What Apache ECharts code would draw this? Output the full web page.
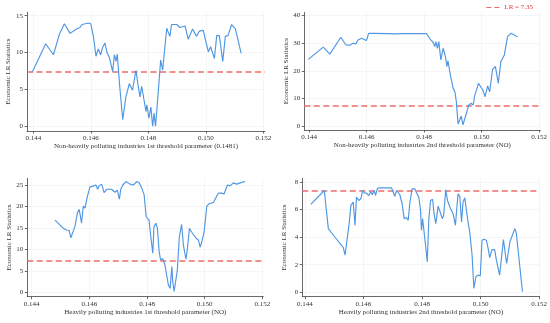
<!DOCTYPE html>
<html>
<head>
<meta charset="utf-8">
<script src="https://cdn.jsdelivr.net/npm/echarts@6/dist/echarts.min.js"></script>
<style>html,body{margin:0;padding:0;background:#fff}#c{width:550px;height:323px}</style>
</head>
<body>
<div id="c"></div>
<script>
// ---- data ----
const xTicks = [0.144, 0.146, 0.148, 0.150, 0.152];
const xTickLabels = ['0.144', '0.146', '0.148', '0.150', '0.152'];
const lrThreshold = 7.35;
const legendLabel = 'LR = 7.35';
const yTitle = 'Economic LR Statistics';

const xTitles = [
  'Non-heavily polluting industries 1st threshold parameter (0.1481)',
  'Non-heavily polluting industries 2nd threshold parameter (NO)',
  'Heavily polluting industries 1st threshold parameter (NO)',
  'Heavily polluting industries 2nd threshold parameter (NO)'
];
const yTicks1 = [0, 5, 10, 15];
const yTicks2 = [0, 10, 20, 30, 40];
const yTicks3 = [0, 5, 10, 15, 20, 25];
const yTicks4 = [0, 2, 4, 6, 8];

const p1X = [0.14397,0.14443,0.1447,0.1449,0.14508,0.14528,0.1455,0.14562,0.1457,0.14591,0.146,0.14609,0.14618,0.14626,0.14634,0.14641,0.14649,0.14657,0.14664,0.1467,0.14676,0.14682,0.14688,0.14692,0.14701,0.14711,0.14722,0.14734,0.14745,0.14757,0.14765,0.14771,0.14777,0.14785,0.14792,0.14795,0.14802,0.14809,0.14815,0.1482,0.14825,0.14831,0.14836,0.14843,0.1485,0.14864,0.14875,0.14881,0.14899,0.14904,0.1491,0.14928,0.14939,0.14954,0.14962,0.14968,0.14977,0.14991,0.15009,0.15017,0.1503,0.15038,0.15047,0.15059,0.15068,0.15077,0.1509,0.15103,0.15123];
const p1Y = [7.4,11.2,9.7,12.4,13.9,12.6,13.2,13.4,13.8,14.0,13.9,12.2,9.5,10.5,9.7,10.7,11.3,9.9,9.4,9.5,7.4,9.7,8.8,9.8,5.2,0.9,4.0,5.8,4.9,7.6,5.4,4.0,5.4,3.6,2.0,2.9,1.1,2.6,0.0,1.8,0.0,2.8,2.8,9.0,7.6,13.3,12.2,13.8,13.8,13.9,13.4,13.6,11.8,13.2,12.6,12.2,12.9,13.0,10.1,10.8,9.2,12.3,12.3,8.8,12.2,12.3,13.8,13.2,9.9];

const p2X = [0.14397,0.14449,0.14472,0.1451,0.14528,0.14541,0.14553,0.14562,0.1457,0.14582,0.14591,0.14599,0.14607,0.14628,0.14674,0.14697,0.14702,0.1472,0.14755,0.14759,0.14767,0.14808,0.14823,0.14832,0.14837,0.14841,0.14846,0.14851,0.14858,0.14866,0.14874,0.14879,0.14883,0.14889,0.14895,0.14901,0.14907,0.14912,0.14918,0.14923,0.14929,0.14935,0.14941,0.14947,0.14955,0.14964,0.14971,0.14975,0.14989,0.15004,0.15012,0.15021,0.15028,0.15038,0.15048,0.15058,0.15067,0.15079,0.1509,0.15102,0.15125];
const p2Y = [24.2,28.6,26.1,32.2,29.4,29.3,30.0,29.8,31.2,31.8,31.4,31.0,33.6,33.6,33.5,33.4,33.6,33.5,33.5,33.1,33.5,33.5,31.2,30.2,28.8,30.6,28.2,30.6,24.0,28.2,25.2,21.6,23.7,19.8,16.7,13.7,12.5,8.9,0.8,0.8,3.7,0.5,0.1,4.7,7.7,8.3,7.7,10.7,15.5,13.1,10.7,14.6,12.5,20.6,21.6,15.5,23.4,25.8,32.4,33.6,32.4];

const p3X = [0.14481,0.14498,0.1451,0.14521,0.14527,0.1453,0.14536,0.14542,0.1455,0.14559,0.14565,0.14573,0.14579,0.14585,0.14593,0.14602,0.14614,0.14623,0.14629,0.14634,0.14643,0.14651,0.1466,0.14677,0.14689,0.14697,0.14704,0.14709,0.14716,0.14727,0.14741,0.14753,0.14764,0.14773,0.14782,0.1479,0.14797,0.14801,0.14807,0.14813,0.1482,0.14824,0.14831,0.14836,0.14842,0.14847,0.14854,0.14862,0.14868,0.14874,0.1488,0.14886,0.14889,0.14894,0.14898,0.14905,0.14912,0.1492,0.14926,0.14931,0.14935,0.1494,0.14947,0.14958,0.1497,0.14978,0.14984,0.1499,0.14998,0.15007,0.15016,0.1503,0.15036,0.15047,0.15059,0.15067,0.15079,0.15088,0.15099,0.15111,0.15123,0.1514];
const p3Y = [16.8,15.7,14.9,14.5,14.3,14.4,12.7,12.7,15.3,18.6,19.3,16.1,20.1,19.6,22.3,24.5,24.8,25.0,24.0,24.8,25.2,23.2,24.0,24.0,23.3,23.8,21.7,24.0,25.0,25.8,25.2,25.0,25.8,25.5,24.2,22.7,17.6,18.0,16.8,13.0,9.1,15.3,16.1,14.9,9.5,7.5,7.9,6.4,4.0,1.7,0.9,6.0,2.5,0.2,0.2,5.2,13.0,15.8,11.0,10.6,7.7,10.2,14.9,13.7,12.6,12.2,10.5,11.8,14.1,20.0,20.7,20.9,21.1,23.1,23.1,22.9,25.0,24.8,25.5,25.2,25.5,25.8];

const p4X = [0.1442,0.14466,0.1448,0.14502,0.14525,0.14531,0.14537,0.14542,0.14551,0.14557,0.14565,0.14571,0.14576,0.14584,0.14591,0.14597,0.14603,0.1461,0.14618,0.14625,0.1463,0.14637,0.14641,0.14648,0.14662,0.14696,0.14702,0.14707,0.14713,0.14719,0.14724,0.14732,0.14739,0.14747,0.14753,0.14758,0.14766,0.14775,0.14783,0.14789,0.14795,0.14798,0.14802,0.14807,0.14812,0.14818,0.14823,0.14829,0.14836,0.14841,0.14847,0.14855,0.14863,0.14869,0.14874,0.14881,0.14887,0.14895,0.14906,0.14914,0.14923,0.14929,0.14935,0.1494,0.14946,0.14957,0.14963,0.14971,0.14977,0.14984,0.14992,0.14999,0.15005,0.15012,0.1502,0.15026,0.15031,0.15039,0.15048,0.15054,0.15065,0.15078,0.15089,0.151,0.15117,0.15122,0.15143];
const p4Y = [6.37,7.38,4.62,4.01,3.41,3.25,2.69,2.76,4.98,6.30,6.54,4.86,6.90,6.66,6.78,7.38,7.21,7.19,7.02,7.31,7.07,7.38,7.02,7.55,7.57,7.57,7.50,6.95,7.38,7.50,7.09,6.42,5.34,5.41,5.22,6.42,7.50,7.50,7.14,6.90,5.94,4.50,5.34,5.41,3.41,2.21,5.22,6.66,6.75,5.70,4.98,6.25,5.75,5.34,5.58,7.43,6.66,6.18,5.70,4.86,7.14,6.95,5.10,6.54,6.85,5.10,4.38,2.69,0.29,1.13,1.25,1.18,3.77,3.85,3.77,3.17,2.52,3.10,3.10,2.33,1.25,3.82,2.09,3.65,4.62,4.30,0.05];

// ---- layout (styling only) ----
const layouts = [
  {left:27,   top:12.3,  right:265,   bottom:131,   xmin:0.14378, xmax:0.15206, ymin:-0.64, ymax:15.46, yTicks:yTicks1},
  {left:304.3,top:12.3,  right:540.5, bottom:130,   xmin:0.14383, xmax:0.15204, ymin:-1.34, ymax:41.2,  yTicks:yTicks2},
  {left:27.3, top:178.3, right:263.3, bottom:296.7, xmin:0.14385, xmax:0.15203, ymin:-1.03, ymax:26.56, yTicks:yTicks3},
  {left:302.3,top:178.3, right:540,   bottom:296.7, xmin:0.14391, xmax:0.15202, ymin:-0.317,ymax:8.265, yTicks:yTicks4}
];
const seriesData = [[p1X,p1Y],[p2X,p2Y],[p3X,p3Y],[p4X,p4Y]];

const FONT = '"Liberation Serif","Times New Roman",serif';
const AXC = '#444';
const RED = '#ef6b6b';
const grids = [], xAxes = [], yAxes = [], series = [];
layouts.forEach((L, i) => {
  grids.push({left:L.left, top:L.top, width:L.right-L.left, height:L.bottom-L.top, containLabel:false});
  xAxes.push({
    type:'value', gridIndex:i, min:L.xmin, max:L.xmax,
    name:xTitles[i], nameLocation:'middle', nameGap:12,
    nameTextStyle:{fontFamily:FONT, fontSize:7, color:'#333'},
    axisLine:{show:true, onZero:false, lineStyle:{color:AXC, width:0.8}},
    axisTick:{show:true, length:2.5, lineStyle:{color:AXC, width:0.8}, customValues:xTicks},
    axisLabel:{fontFamily:FONT, fontSize:7, color:'#333', margin:4, customValues:xTicks,
      formatter:(v)=>{const k=xTicks.findIndex(t=>Math.abs(t-v)<1e-7);return k>=0?xTickLabels[k]:'';}},
    splitLine:{show:true, lineStyle:{color:'#eeeeee', width:0.6}}
  });
  yAxes.push({
    type:'value', gridIndex:i, min:L.ymin, max:L.ymax,
    name:yTitle, nameLocation:'middle', nameGap:15,
    nameTextStyle:{fontFamily:FONT, fontSize:7, color:'#333'},
    axisLine:{show:true, onZero:false, lineStyle:{color:AXC, width:0.8}},
    axisTick:{show:true, length:2.5, lineStyle:{color:AXC, width:0.8}, customValues:L.yTicks},
    axisLabel:{fontFamily:FONT, fontSize:7, color:'#333', margin:4, customValues:L.yTicks},
    splitLine:{show:true, lineStyle:{color:'#eeeeee', width:0.6}}
  });
  const [xs, ys] = seriesData[i];
  series.push({
    type:'line', xAxisIndex:i, yAxisIndex:i, symbol:'none', silent:true,
    data: xs.map((x,k)=>[x, ys[k]]),
    lineStyle:{color:'#4f97e3', width:1.15},
    z:3,
    markLine:{silent:true, symbol:['none','none'], label:{show:false},
      lineStyle:{color:RED, type:[6,3.5], width:1.6},
      data:[{yAxis:lrThreshold}], z:2}
  });
});
series.push({
  name:legendLabel, type:'line', xAxisIndex:1, yAxisIndex:1, data:[], symbol:'none',
  itemStyle:{color:RED}, lineStyle:{color:RED, type:[4,3], width:1.4}
});

const chart = echarts.init(document.getElementById('c'), null, {renderer:'canvas'});
chart.setOption({
  animation:false,
  backgroundColor:'#fff',
  legend:{data:[{name:legendLabel, icon:'path://M0 0H5V1H0Z M8 0H13V1H8Z'}], right:12, top:-1,
    itemWidth:13, itemHeight:1.5, itemGap:4, itemStyle:{color:RED},
    textStyle:{fontFamily:FONT, fontSize:7, color:'#e03a3a'}},
  grid:grids, xAxis:xAxes, yAxis:yAxes, series:series
});
</script>
</body>
</html>
